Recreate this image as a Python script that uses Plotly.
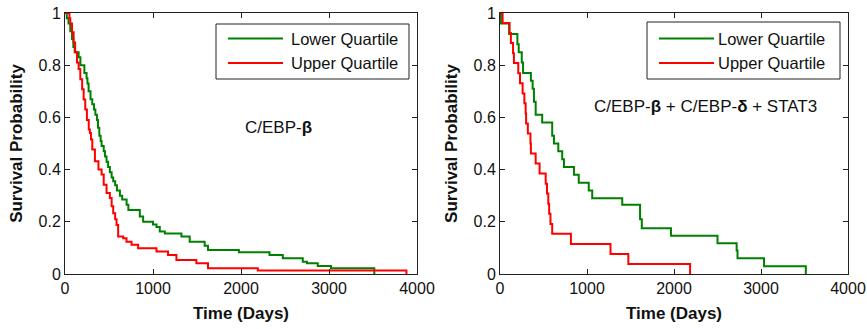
import plotly.graph_objects as go

# ---------------- data ----------------
# Left panel: C/EBP-beta
left_lower_t = [0, 20, 40, 60, 80, 95, 110, 155, 175, 220, 245, 255, 268, 290, 310, 330, 345,
                363, 375, 390, 405, 416, 440, 455, 472, 490, 510, 530, 548, 570, 590, 624, 650,
                700, 720, 850, 888, 1000, 1040, 1077, 1135, 1323, 1417, 1587, 1625, 1976, 2324,
                2475, 2702, 2750, 2872, 3023, 3515]
left_lower_s = [1.0, 0.98, 0.96, 0.93, 0.90, 0.87, 0.85, 0.83, 0.80, 0.77, 0.75, 0.73, 0.70,
                0.67, 0.65, 0.63, 0.61, 0.59, 0.56, 0.53, 0.51, 0.49, 0.47, 0.45, 0.43, 0.41,
                0.39, 0.37, 0.355, 0.34, 0.32, 0.30, 0.285, 0.265, 0.245, 0.22, 0.20, 0.19,
                0.18, 0.163, 0.155, 0.144, 0.124, 0.108, 0.092, 0.083, 0.073, 0.06, 0.047,
                0.041, 0.031, 0.022, 0.0]
left_upper_t = [0, 50, 60, 80, 98, 115, 136, 155, 174, 195, 212, 230, 249, 270, 283, 295, 310,
                340, 380, 416, 440, 472, 510, 530, 548, 570, 586, 604, 661, 699, 756, 831,
                1040, 1171, 1266, 1493, 1625, 2191, 3880]
left_upper_s = [1.0, 0.98, 0.96, 0.926, 0.887, 0.85, 0.81, 0.785, 0.746, 0.708, 0.669, 0.63,
                0.59, 0.554, 0.54, 0.515, 0.477, 0.432, 0.40, 0.381, 0.342, 0.31, 0.291, 0.26,
                0.233, 0.21, 0.188, 0.144, 0.137, 0.124, 0.112, 0.099, 0.086, 0.073, 0.054,
                0.041, 0.022, 0.013, 0.0]

# Right panel: C/EBP-beta + C/EBP-delta + STAT3
right_lower_t = [0, 10, 105, 200, 215, 250, 265, 355, 375, 390, 410, 485, 600, 620, 670, 715,
                 735, 850, 905, 1020, 1060, 1405, 1610, 1630, 1965, 2500, 2720, 2730, 3035, 3515]
right_lower_s = [1.0, 0.96, 0.92, 0.88, 0.85, 0.81, 0.77, 0.74, 0.71, 0.66, 0.61, 0.58, 0.53,
                 0.50, 0.47, 0.44, 0.41, 0.38, 0.35, 0.32, 0.29, 0.265, 0.21, 0.175, 0.147,
                 0.118, 0.09, 0.06, 0.03, 0.0]
right_upper_t = [0, 30, 110, 125, 150, 160, 210, 230, 260, 280, 295, 300, 320, 350, 355, 410,
                 455, 525, 540, 555, 565, 580, 600, 815, 1270, 1475, 2185]
right_upper_s = [1.0, 0.962, 0.923, 0.885, 0.846, 0.808, 0.769, 0.731, 0.692, 0.654, 0.615,
                 0.577, 0.538, 0.50, 0.462, 0.423, 0.385, 0.346, 0.308, 0.269, 0.231, 0.192,
                 0.154, 0.115, 0.077, 0.038, 0.0]

legend_labels = ["Lower Quartile", "Upper Quartile"]
panel_labels = ["C/EBP-<b>β</b>", "C/EBP-<b>β</b> + C/EBP-<b>δ</b> + STAT3"]
x_tick_vals = [0, 1000, 2000, 3000, 4000]
x_tick_text = ["0", "1000", "2000", "3000", "4000"]
y_tick_vals = [0, 0.2, 0.4, 0.6, 0.8, 1]
y_tick_text = ["0", "0.2", "0.4", "0.6", "0.8", "1"]
x_title = "Time (Days)"
y_title = "Survival Probability"

# ---------------- styling / layout ----------------
W, H = 867, 329
ML, MR, MT, MB = 65, 19, 13, 55
PW, PH = W - ML - MR, H - MT - MB
GREEN = "rgb(0,128,0)"
RED = "rgb(255,0,0)"
FONT = "Arial, 'Liberation Sans', Helvetica, sans-serif"


def px(x):
    return (x - ML) / PW


def py(y):
    return (H - MB - y) / PH


fig = go.Figure()
series = [
    (left_lower_t, left_lower_s, GREEN, "x", "y", legend_labels[0]),
    (left_upper_t, left_upper_s, RED, "x", "y", legend_labels[1]),
    (right_lower_t, right_lower_s, GREEN, "x2", "y2", legend_labels[0]),
    (right_upper_t, right_upper_s, RED, "x2", "y2", legend_labels[1]),
]
for t, s, c, xa, ya, name in series:
    fig.add_trace(go.Scatter(x=t, y=s, mode="lines", line=dict(color=c, width=2, shape="hv"),
                             xaxis=xa, yaxis=ya, name=name, showlegend=False,
                             cliponaxis=True))

axis_common = dict(showline=True, linecolor="#222", linewidth=1, mirror="ticks",
                   ticks="inside", ticklen=5, tickcolor="#222", tickwidth=1,
                   showgrid=False, zeroline=False, ticklabeloverflow="allow",
                   tickfont=dict(family=FONT, size=16, color="#111"))
xaxis_common = dict(axis_common, range=[0, 4000], tickvals=x_tick_vals, ticktext=x_tick_text,
                    title=dict(text="<b>" + x_title + "</b>",
                               font=dict(family=FONT, size=17, color="#111"), standoff=10))
yaxis_common = dict(axis_common, range=[0, 1], tickvals=y_tick_vals, ticktext=y_tick_text,
                    title=dict(text="<b>" + y_title + "</b>",
                               font=dict(family=FONT, size=17, color="#111"), standoff=11))

fig.update_layout(
    width=W, height=H,
    margin=dict(l=ML, r=MR, t=MT, b=MB, autoexpand=False),
    paper_bgcolor="white", plot_bgcolor="white",
    showlegend=False,
    xaxis=dict(xaxis_common, domain=[0, px(417)], anchor="y"),
    yaxis=dict(yaxis_common, domain=[0, 1], anchor="x"),
    xaxis2=dict(xaxis_common, domain=[px(500), 1], anchor="y2"),
    yaxis2=dict(yaxis_common, domain=[0, 1], anchor="x2"),
)

shapes = []
annotations = []
# panel labels
annotations.append(dict(xref="paper", yref="paper", x=px(278), y=py(127), text=panel_labels[0],
                        showarrow=False, xanchor="center", yanchor="middle",
                        font=dict(family=FONT, size=17, color="#111")))
annotations.append(dict(xref="paper", yref="paper", x=px(705), y=py(106), text=panel_labels[1],
                        showarrow=False, xanchor="center", yanchor="middle",
                        font=dict(family=FONT, size=17, color="#111")))

# hand-drawn MATLAB style legends
legend_boxes = [(216, 409, 24, 79, 228, 283, 289), (647, 840, 22, 79, 659, 714, 716)]
for (bx0, bx1, by0, by1, lx0, lx1, tx) in legend_boxes:
    shapes.append(dict(type="rect", xref="paper", yref="paper", x0=px(bx0), x1=px(bx1),
                       y0=py(by1), y1=py(by0), line=dict(color="#222", width=1),
                       fillcolor="white", layer="above"))
    for ly, col, lab in [(38.5, GREEN, legend_labels[0]), (63, RED, legend_labels[1])]:
        shapes.append(dict(type="line", xref="paper", yref="paper", x0=px(lx0), x1=px(lx1),
                           y0=py(ly), y1=py(ly), line=dict(color=col, width=2), layer="above"))
        annotations.append(dict(xref="paper", yref="paper", x=px(tx), y=py(ly), text=lab,
                                showarrow=False, xanchor="left", yanchor="middle",
                                font=dict(family=FONT, size=16.5, color="#111")))

fig.update_layout(shapes=shapes, annotations=annotations)
fig.write_html("out.html", config={"displayModeBar": False},
               post_script="document.body.style.margin='0px';document.body.style.overflow='hidden';")
